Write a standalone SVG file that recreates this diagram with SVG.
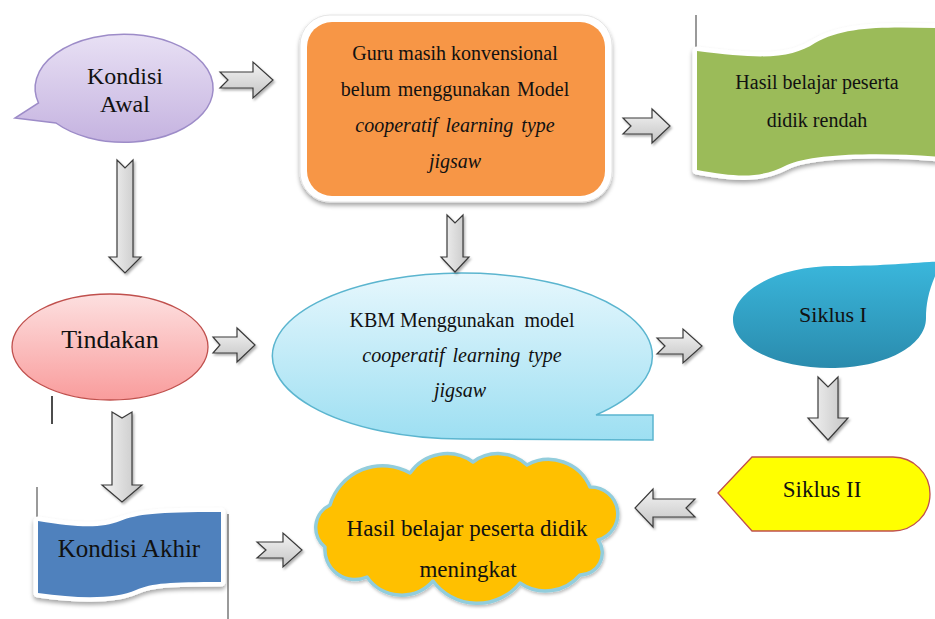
<svg xmlns="http://www.w3.org/2000/svg" width="935" height="619" viewBox="0 0 935 619">
  <defs>
    <style>
      .t{font-family:"Liberation Serif","Times New Roman",serif;fill:#111;text-anchor:middle}
      .i{font-style:italic}
      .ah{fill:url(#gradH);stroke:#3a3a3a;stroke-width:1.2;stroke-linejoin:miter;filter:url(#arrShadow)}
      .av{fill:url(#gradV);stroke:#3a3a3a;stroke-width:1.2;stroke-linejoin:miter;filter:url(#arrShadow)}
      .edge{stroke:#9a9a9a;stroke-width:2}
    </style>
    <linearGradient id="gradH" x1="0" y1="0" x2="0" y2="1">
      <stop offset="0" stop-color="#f4f4f4"/>
      <stop offset="1" stop-color="#c4c4c4"/>
    </linearGradient>
    <linearGradient id="gradV" x1="0" y1="0" x2="1" y2="0">
      <stop offset="0" stop-color="#f4f4f4"/>
      <stop offset="1" stop-color="#c4c4c4"/>
    </linearGradient>
    <linearGradient id="gLav" x1="0" y1="0" x2="0" y2="1">
      <stop offset="0" stop-color="#e8e0f4"/>
      <stop offset="1" stop-color="#c5b3e0"/>
    </linearGradient>
    <linearGradient id="gPink" x1="0" y1="0" x2="0" y2="1">
      <stop offset="0" stop-color="#fde0e0"/>
      <stop offset="1" stop-color="#f99c9c"/>
    </linearGradient>
    <linearGradient id="gCyan" x1="0" y1="0" x2="0" y2="1">
      <stop offset="0" stop-color="#e6f7fd"/>
      <stop offset="1" stop-color="#9ddff2"/>
    </linearGradient>
    <linearGradient id="gTeal" x1="0" y1="0" x2="0" y2="1">
      <stop offset="0" stop-color="#3ab7dc"/>
      <stop offset="1" stop-color="#2a8bad"/>
    </linearGradient>
    <filter id="arrShadow" x="-30%" y="-30%" width="160%" height="160%">
      <feDropShadow dx="1.5" dy="2" stdDeviation="1.2" flood-color="#000" flood-opacity="0.3"/>
    </filter>
    <filter id="boxShadow" x="-10%" y="-10%" width="120%" height="125%">
      <feDropShadow dx="0" dy="3" stdDeviation="2" flood-color="#000" flood-opacity="0.35"/>
    </filter>
    <filter id="softShadow" x="-10%" y="-10%" width="120%" height="125%">
      <feDropShadow dx="1" dy="2" stdDeviation="1.5" flood-color="#000" flood-opacity="0.25"/>
    </filter>
  </defs>

  <rect width="935" height="619" fill="#fff"/>

  <!-- Kondisi Awal: oval speech bubble -->
  <g id="kondisi-awal">
    <path d="M56,123 L15,118 L38.5,103 A89,54 0 1 1 56,123 Z" fill="url(#gLav)" stroke="#9d8cc8" stroke-width="1.5"/>
    <text class="t" x="125" y="84" font-size="24">Kondisi</text>
    <text class="t" x="125" y="112" font-size="24">Awal</text>
  </g>

  <!-- Guru masih konvensional: rounded box with white frame -->
  <g id="guru-konvensional">
    <rect x="300" y="15" width="312" height="187" rx="30" fill="#fff" stroke="#e4e4e4" stroke-width="1" filter="url(#boxShadow)"/>
    <rect x="307" y="22" width="298" height="174" rx="25" fill="#f79646"/>
    <text class="t" x="455" y="60" font-size="20">Guru masih konvensional</text>
    <text class="t" x="455" y="96" font-size="20" word-spacing="2">belum menggunakan Model</text>
    <text class="t i" x="455" y="132" font-size="20" word-spacing="3">cooperatif learning type</text>
    <text class="t i" x="455" y="168" font-size="20">jigsaw</text>
  </g>

  <!-- Hasil belajar rendah: wave banner -->
  <g id="hasil-rendah">
    <line class="edge" x1="696" y1="15" x2="696" y2="48"/>
    <path d="M697,51 C765,60 792,58 815,43 C845,25 890,27 940,28 L940,157 C885,152 812,153 787,165 C762,178 740,178 697,170 Z" fill="#fff" stroke="#fff" stroke-width="9" stroke-linejoin="round" filter="url(#boxShadow)"/>
    <path d="M697,51 C765,60 792,58 815,43 C845,25 890,27 940,28 L940,157 C885,152 812,153 787,165 C762,178 740,178 697,170 Z" fill="#9bbb59"/>
    <text class="t" x="817" y="89" font-size="20">Hasil belajar peserta</text>
    <text class="t" x="817" y="127" font-size="20">didik rendah</text>
  </g>

  <!-- Tindakan: ellipse -->
  <g id="tindakan">
    <ellipse cx="110" cy="347" rx="98" ry="53" fill="url(#gPink)" stroke="#c0504d" stroke-width="1.3"/>
    <text class="t" x="110" y="348" font-size="26">Tindakan</text>
    <line x1="52" y1="396" x2="52" y2="424" stroke="#111" stroke-width="1.5"/>
  </g>

  <!-- KBM: oval callout with square corner tail -->
  <g id="kbm">
    <path d="M596,415 L653,415 L653,440 L462,439 A190,83 0 1 1 596,415 Z" fill="url(#gCyan)" stroke="#5bb5cf" stroke-width="1.5"/>
    <text class="t" x="462" y="327" font-size="20" xml:space="preserve">KBM Menggunakan  model</text>
    <text class="t i" x="462" y="362" font-size="20" word-spacing="3">cooperatif learning type</text>
    <text class="t i" x="460" y="397" font-size="20">jigsaw</text>
  </g>

  <!-- Siklus I: teardrop -->
  <g id="siklus-1">
    <path d="M733,320 C733,292 775,266 835,266 C880,266 910,263 942,261 C930,285 926,300 926,318 C926,346 885,368 830,368 C775,368 733,346 733,320 Z" fill="url(#gTeal)"/>
    <text class="t" x="833" y="322" font-size="22">Siklus I</text>
  </g>

  <!-- Siklus II: display shape -->
  <g id="siklus-2">
    <path d="M718,493 L752,457 L893,457 A37,37 0 0 1 893,531 L752,531 Z" fill="#ffff00" stroke="#c0504d" stroke-width="1.3"/>
    <text class="t" x="822" y="497" font-size="23">Siklus II</text>
  </g>

  <!-- Kondisi Akhir: wave banner -->
  <g id="kondisi-akhir">
    <line class="edge" x1="37" y1="487" x2="37" y2="520"/>
    <line class="edge" x1="228" y1="514" x2="228" y2="619"/>
    <path d="M38,521 C80,528 102,528 120,521 C138,514 155,512 221,512 L221,582 C170,582 152,583 136,590 C116,599 80,599 38,593 Z" fill="#fff" stroke="#fff" stroke-width="9" stroke-linejoin="round" filter="url(#boxShadow)"/>
    <path d="M38,521 C80,528 102,528 120,521 C138,514 155,512 221,512 L221,582 C170,582 152,583 136,590 C116,599 80,599 38,593 Z" fill="#4f81bd"/>
    <text class="t" x="129" y="557" font-size="25">Kondisi Akhir</text>
  </g>

  <!-- Hasil belajar meningkat: cloud -->
  <g id="hasil-meningkat">
    <path d="M330,505 A55,55 0 0 1 410,473 A45,45 0 0 1 473,462 A42,42 0 0 1 527,465 A45,45 0 0 1 590,487 A27,27 0 0 1 598,540 A22,22 0 0 1 580,575 A45,45 0 0 1 520,583 A55,55 0 0 1 433,581 A42,42 0 0 1 367,577 A30,30 0 0 1 325,547 A25,25 0 0 1 330,505 Z" fill="#ffc000" stroke="#92cddc" stroke-width="3.5" stroke-linejoin="round" filter="url(#softShadow)"/>
    <text class="t" x="467" y="536" font-size="23">Hasil belajar peserta didik</text>
    <text class="t" x="468" y="577" font-size="23">meningkat</text>
  </g>

  <!-- Connectors: notched block arrows -->
  <g id="connectors">
    <path class="ah" d="M220,72 L253,72 L253,62 L273,80 L253,98 L253,88 L220,88 L228,80 Z"/>
    <path class="ah" d="M623,118 L652,118 L652,109 L670,126 L652,143 L652,134 L623,134 L631,126 Z"/>
    <path class="av" d="M117,160 L125,168 L133,160 L133,257 L141,257 L125,273 L109,257 L117,257 Z"/>
    <path class="av" d="M447,215 L455,223 L463,215 L463,257 L469,257 L455,272 L441,257 L447,257 Z"/>
    <path class="ah" d="M213,337 L237,337 L237,328 L255,345 L237,362 L237,353 L213,353 L220,345 Z"/>
    <path class="ah" d="M657,338 L683,338 L683,329 L702,346 L683,363 L683,354 L657,354 L665,346 Z"/>
    <path class="av" d="M818,377 L828,387 L838,377 L838,418 L848,418 L828,440 L808,418 L818,418 Z"/>
    <path class="ah" d="M695,499 L653,499 L653,489 L635,508 L653,527 L653,517 L695,517 L686,508 Z"/>
    <path class="av" d="M112,412 L122,418 L132,412 L132,485 L142,485 L122,502 L102,485 L112,485 Z"/>
    <path class="ah" d="M257,542 L283,542 L283,533 L302,550 L283,567 L283,558 L257,558 L266,550 Z"/>
  </g>
</svg>
